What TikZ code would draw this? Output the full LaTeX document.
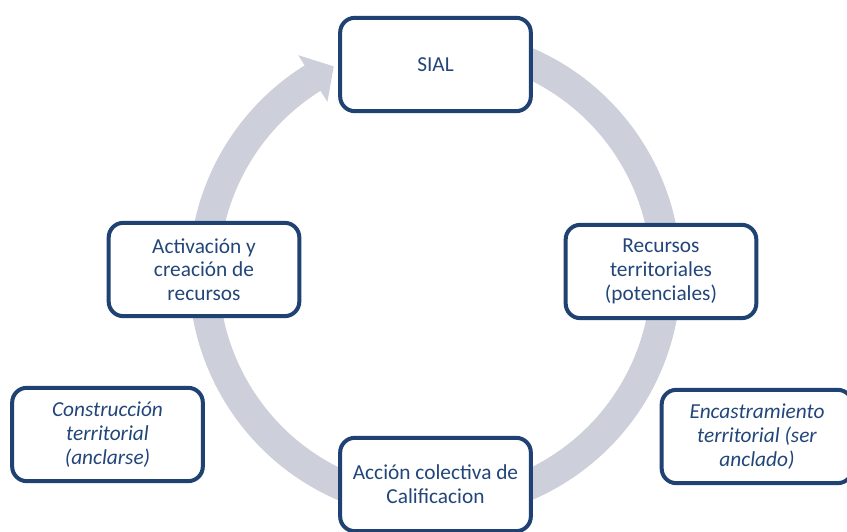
\documentclass[tikz,border=0pt]{standalone}
\usepackage{fontspec}
\setmainfont{Carlito}
\usepackage{tikz}
\usepackage{xcolor}
\usetikzlibrary{arrows.meta,shapes,positioning,calc}
\definecolor{cyclegray}{RGB}{205, 208, 218}
\definecolor{boxblue}{RGB}{31, 66, 115}
\definecolor{textblue}{RGB}{34, 70, 122}

\begin{document}
\begin{tikzpicture}[x=0.75pt, y=0.75pt,
    stagebox/.style={draw=boxblue, line width=3pt, fill=white, rounded corners=11pt,
      minimum width=143pt, minimum height=70pt, align=center, text=textblue,
      font=\fontsize{16}{17.8}\selectfont}]
                \useasboundingbox (0,0) rectangle (847,532);
                % Circular arrow behind the stages
                \begin{scope}[shift={(435,258)}]
                \fill[cyclegray] (75:246) arc[start angle=75, end angle=-238, radius=246]
                  -- (-238:258) -- (-244:231) -- (-238:203) -- (-238:216)
                  arc[start angle=-238, end angle=75, radius=216] -- cycle;
                \end{scope}
                % Stages of the cycle
                \node[stagebox] (sial) at (435.5,467.5) {SIAL};
                \node[stagebox] (recursos) at (661,260.5) {Recursos\\territoriales\\(potenciales)};
                \node[stagebox] (accion) at (435.5,47.5) {Acción colectiva de\\Calificacion};
                \node[stagebox] (activacion) at (204,262.5) {Activación y\\creación de\\recursos};
                % Side notes
                \node[stagebox, font=\fontsize{16}{17.8}\selectfont\itshape] (construccion) at (107.5,97.5) {Construcción\\territorial\\(anclarse)};
                \node[stagebox, font=\fontsize{16}{17.8}\selectfont\itshape] (encastramiento) at (757,95.5) {Encastramiento\\territorial (ser\\anclado)};
            \end{tikzpicture}
\end{document}
